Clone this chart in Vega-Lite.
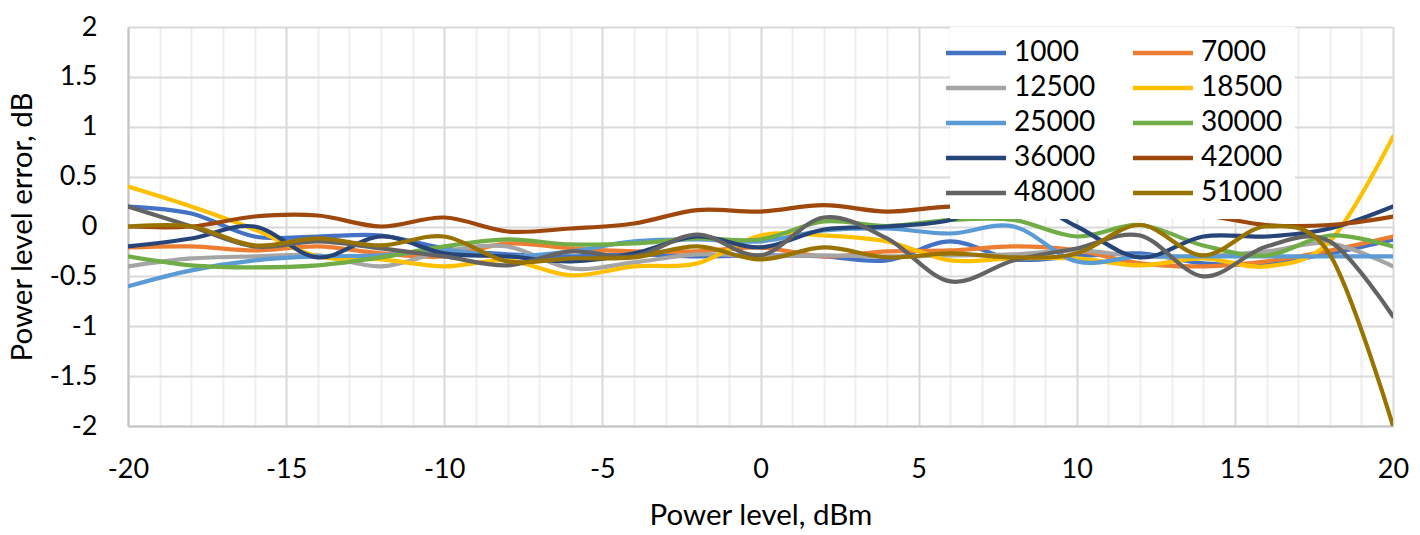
{
  "$schema": "https://vega.github.io/schema/vega-lite/v6.json",
  "width": 1265,
  "height": 399,
  "autosize": "none",
  "padding": {"left": 128, "top": 27, "right": 27, "bottom": 109},
  "background": "white",
  "config": {
    "font": "Lato",
    "view": {"stroke": null},
    "axis": {
      "labelFont": "Lato",
      "labelFontSize": 27,
      "labelColor": "#000000",
      "titleFont": "Lato",
      "titleFontSize": 29.5,
      "titleFontWeight": "normal",
      "titleColor": "#000000",
      "ticks": false,
      "domainColor": "#c4c4c4",
      "domainWidth": 2
    }
  },
  "data": {
    "values": [
      {"x": -20, "1000": 0.2, "7000": -0.21, "12500": -0.4, "18500": 0.4, "25000": -0.6, "30000": -0.3, "36000": -0.2, "42000": 0.0, "48000": 0.2, "51000": 0.0},
      {"x": -18, "1000": 0.13, "7000": -0.2, "12500": -0.32, "18500": 0.2, "25000": -0.44, "30000": -0.39, "36000": -0.12, "42000": 0.0, "48000": 0.0, "51000": 0.0},
      {"x": -16, "1000": -0.1, "7000": -0.24, "12500": -0.3, "18500": -0.03, "25000": -0.34, "30000": -0.41, "36000": 0.0, "42000": 0.1, "48000": -0.2, "51000": -0.19},
      {"x": -14, "1000": -0.1, "7000": -0.2, "12500": -0.29, "18500": -0.3, "25000": -0.3, "30000": -0.39, "36000": -0.31, "42000": 0.11, "48000": -0.15, "51000": -0.12},
      {"x": -12, "1000": -0.09, "7000": -0.27, "12500": -0.4, "18500": -0.33, "25000": -0.29, "30000": -0.31, "36000": -0.1, "42000": 0.0, "48000": -0.22, "51000": -0.19},
      {"x": -10, "1000": -0.22, "7000": -0.3, "12500": -0.25, "18500": -0.4, "25000": -0.24, "30000": -0.2, "36000": -0.27, "42000": 0.09, "48000": -0.3, "51000": -0.1},
      {"x": -8, "1000": -0.28, "7000": -0.17, "12500": -0.2, "18500": -0.34, "25000": -0.3, "30000": -0.13, "36000": -0.3, "42000": -0.05, "48000": -0.39, "51000": -0.35},
      {"x": -6, "1000": -0.3, "7000": -0.22, "12500": -0.42, "18500": -0.49, "25000": -0.25, "30000": -0.18, "36000": -0.35, "42000": -0.02, "48000": -0.25, "51000": -0.32},
      {"x": -4, "1000": -0.28, "7000": -0.25, "12500": -0.36, "18500": -0.4, "25000": -0.15, "30000": -0.17, "36000": -0.27, "42000": 0.03, "48000": -0.3, "51000": -0.31},
      {"x": -2, "1000": -0.3, "7000": -0.25, "12500": -0.28, "18500": -0.37, "25000": -0.13, "30000": -0.12, "36000": -0.1, "42000": 0.165, "48000": -0.08, "51000": -0.2},
      {"x": 0, "1000": -0.29, "7000": -0.21, "12500": -0.3, "18500": -0.09, "25000": -0.15, "30000": -0.13, "36000": -0.21, "42000": 0.15, "48000": -0.29, "51000": -0.33},
      {"x": 2, "1000": -0.3, "7000": -0.3, "12500": -0.29, "18500": -0.09, "25000": -0.04, "30000": 0.05, "36000": -0.03, "42000": 0.215, "48000": 0.09, "51000": -0.21},
      {"x": 4, "1000": -0.34, "7000": -0.25, "12500": -0.3, "18500": -0.15, "25000": -0.02, "30000": 0.005, "36000": 0.0, "42000": 0.15, "48000": -0.12, "51000": -0.31},
      {"x": 6, "1000": -0.15, "7000": -0.24, "12500": -0.29, "18500": -0.34, "25000": -0.07, "30000": 0.065, "36000": 0.065, "42000": 0.2, "48000": -0.55, "51000": -0.27},
      {"x": 8, "1000": -0.33, "7000": -0.2, "12500": -0.28, "18500": -0.32, "25000": 0.0, "30000": 0.065, "36000": 0.3, "42000": 0.17, "48000": -0.34, "51000": -0.31},
      {"x": 10, "1000": -0.3, "7000": -0.24, "12500": -0.24, "18500": -0.32, "25000": -0.35, "30000": -0.1, "36000": 0.0, "42000": 0.1, "48000": -0.22, "51000": -0.27},
      {"x": 12, "1000": -0.27, "7000": -0.37, "12500": -0.3, "18500": -0.39, "25000": -0.3, "30000": 0.015, "36000": -0.31, "42000": 0.11, "48000": -0.09, "51000": 0.015},
      {"x": 14, "1000": -0.37, "7000": -0.4, "12500": -0.3, "18500": -0.32, "25000": -0.3, "30000": -0.19, "36000": -0.1, "42000": 0.11, "48000": -0.5, "51000": -0.29},
      {"x": 16, "1000": -0.37, "7000": -0.35, "12500": -0.25, "18500": -0.4, "25000": -0.3, "30000": -0.29, "36000": -0.1, "42000": 0.015, "48000": -0.2, "51000": 0.0},
      {"x": 18, "1000": -0.27, "7000": -0.24, "12500": -0.17, "18500": -0.15, "25000": -0.3, "30000": -0.09, "36000": -0.02, "42000": 0.015, "48000": -0.15, "51000": -0.28},
      {"x": 20, "1000": -0.13, "7000": -0.1, "12500": -0.4, "18500": 0.9, "25000": -0.3, "30000": -0.2, "36000": 0.2, "42000": 0.1, "48000": -0.9, "51000": -2.0}
    ]
  },
  "transform": [
    {"fold": ["1000", "7000", "12500", "18500", "25000", "30000", "36000", "42000", "48000", "51000"], "as": ["series", "err"]}
  ],
  "mark": {"type": "line", "interpolate": "cardinal", "strokeWidth": 4.2, "strokeCap": "round", "clip": true},
  "encoding": {
    "x": {
      "field": "x",
      "type": "quantitative",
      "title": "Power level, dBm",
      "scale": {"domain": [-20, 20], "nice": false, "zero": false},
      "axis": {
        "values": [-20, -19, -18, -17, -16, -15, -14, -13, -12, -11, -10, -9, -8, -7, -6, -5, -4, -3, -2, -1, 0, 1, 2, 3, 4, 5, 6, 7, 8, 9, 10, 11, 12, 13, 14, 15, 16, 17, 18, 19, 20],
        "labelExpr": "datum.value % 5 === 0 ? datum.value + '' : ''",
        "labelPadding": 30,
        "labelFlush": false,
        "labelOverlap": false,
        "grid": true,
        "gridColor": {"condition": {"test": "datum.value % 5 === 0", "value": "#d9d9d9"}, "value": "#efefef"},
        "gridWidth": 2,
        "titleX": 632.5,
        "titleY": 89,
        "titleBaseline": "middle"
      }
    },
    "y": {
      "field": "err",
      "type": "quantitative",
      "title": "Power level error, dB",
      "scale": {"domain": [-2, 2], "nice": false, "zero": false},
      "axis": {
        "values": [-2, -1.5, -1, -0.5, 0, 0.5, 1, 1.5, 2],
        "labelExpr": "datum.value + ''",
        "labelPadding": 31,
        "grid": true,
        "gridColor": "#d9d9d9",
        "gridWidth": 2,
        "titleX": -106,
        "titleY": 199.5,
        "titleAngle": -90,
        "titleAlign": "center",
        "titleBaseline": "middle"
      }
    },
    "color": {
      "field": "series",
      "type": "nominal",
      "scale": {
        "domain": ["1000", "7000", "12500", "18500", "25000", "30000", "36000", "42000", "48000", "51000"],
        "range": ["#4472c4", "#ed7d31", "#a5a5a5", "#ffc000", "#5b9bd5", "#70ad47", "#264478", "#9e480e", "#636363", "#997300"]
      },
      "legend": {
        "title": null,
        "orient": "none",
        "legendX": 822,
        "legendY": 0,
        "direction": "horizontal",
        "columns": 2,
        "fillColor": "white",
        "padding": 12,
        "symbolType": "M-3,0H3",
        "symbolSize": 400,
        "symbolStrokeWidth": 4.5,
        "symbolStrokeCap": "round",
        "labelFont": "Lato",
        "labelFontSize": 28,
        "labelColor": "#000000",
        "labelOffset": 24,
        "rowPadding": 7,
        "columnPadding": 28
      }
    }
  }
}
